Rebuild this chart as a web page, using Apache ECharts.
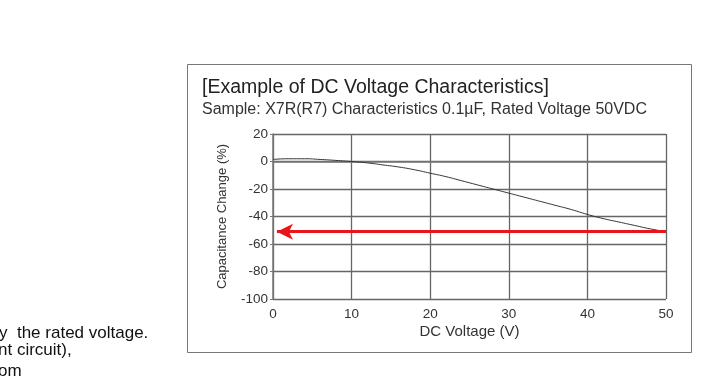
<!DOCTYPE html>
<html>
<head>
<meta charset="utf-8">
<script src="https://cdn.jsdelivr.net/npm/echarts@6/dist/echarts.min.js"></script>
<style>
  html, body { margin: 0; padding: 0; background: #fff; }
  #chart { width: 712px; height: 378px; }
</style>
</head>
<body>
<div id="chart"></div>
<script>
// curve: DC bias (V) vs capacitance change (%)
var voltage = [0, 2, 4, 6, 8, 10, 12, 14, 16, 18, 20, 22, 24, 26, 28, 30, 32, 34, 36, 38, 40, 42, 44, 46, 48, 50];
var capChange = [1.5, 2, 2, 1.5, 0.8, 0, -1, -2.5, -4, -6, -8.5, -11, -14, -17, -20, -23, -26, -29, -32, -35, -38.5, -41.5, -44, -46.5, -49, -51];
// red arrow from rated voltage back to the axis
var arrowFrom = [50, -51];
var arrowTo = [0.5, -51];
var xTicks = [0, 10, 20, 30, 40, 50];
var yTicks = [20, 0, -20, -40, -60, -80, -100];
var sideText = ['y  the rated voltage.', 'nt circuit),', 'om'];

var chart = echarts.init(document.getElementById('chart'));
var font = '"Liberation Sans", Arial, sans-serif';

chart.setOption({
  animation: false,
  textStyle: { fontFamily: font },
  title: [
    { text: '[Example of DC Voltage Characteristics]', left: 197, top: 73,
      textStyle: { fontSize: 19.5, fontWeight: 'normal', color: '#222', fontFamily: font } },
    { text: 'Sample: X7R(R7) Characteristics 0.1\u00b5F, Rated Voltage 50VDC', left: 197, top: 97,
      textStyle: { fontSize: 16, fontWeight: 'normal', color: '#333', fontFamily: font } }
  ],
  graphic: [
    { type: 'rect', shape: { x: 187.5, y: 64.5, width: 504, height: 288 },
      style: { fill: 'none', stroke: '#777', lineWidth: 1 }, z: -1 },
    { type: 'text', left: -1, top: 325, style: { text: sideText[0], fontSize: 17, fill: '#111', fontFamily: font } },
    { type: 'text', left: -2, top: 342, style: { text: sideText[1], fontSize: 17, fill: '#111', fontFamily: font } },
    { type: 'text', left: -2, top: 363, style: { text: sideText[2], fontSize: 17, fill: '#111', fontFamily: font } }
  ],
  grid: { left: 273, right: 46, top: 134, bottom: 79, containLabel: false },
  xAxis: {
    type: 'value', min: 0, max: 50, interval: 10,
    name: 'DC Voltage (V)', nameLocation: 'middle', nameGap: 25,
    nameTextStyle: { fontSize: 15, color: '#333' },
    axisLine: { show: true, lineStyle: { color: '#777', width: 1.5 } },
    axisTick: { show: false },
    axisLabel: { fontSize: 13.5, color: '#333', margin: 8,
      formatter: function (v) { return xTicks.indexOf(v) >= 0 ? String(v) : ''; } },
    splitLine: { show: true, lineStyle: { color: '#666', width: 1.3 } }
  },
  yAxis: {
    type: 'value', min: -100, max: 20, interval: 20,
    name: 'Capacitance Change (%)', nameLocation: 'middle', nameGap: 44, nameRotate: 90,
    nameTextStyle: { fontSize: 13, color: '#333' },
    axisLine: { show: true, lineStyle: { color: '#777', width: 1.5 } },
    axisTick: { show: true, length: 3, lineStyle: { color: '#777' } },
    axisLabel: { fontSize: 13.5, color: '#333', margin: 5,
      formatter: function (v) { return yTicks.indexOf(v) >= 0 ? String(v) : ''; } },
    splitLine: { show: true, lineStyle: { color: '#666', width: 1.3 } }
  },
  series: [{
    type: 'line',
    data: voltage.map(function (v, i) { return [v, capChange[i]]; }),
    smooth: true, showSymbol: false,
    lineStyle: { color: '#333', width: 1 },
    markLine: {
      silent: true, symbol: ['none', 'arrow'], symbolSize: [12, 16],
      label: { show: false },
      lineStyle: { color: '#e8161b', width: 3, type: 'solid' },
      data: [[{ coord: arrowFrom }, { coord: arrowTo }]]
    }
  }]
});
</script>
</body>
</html>
